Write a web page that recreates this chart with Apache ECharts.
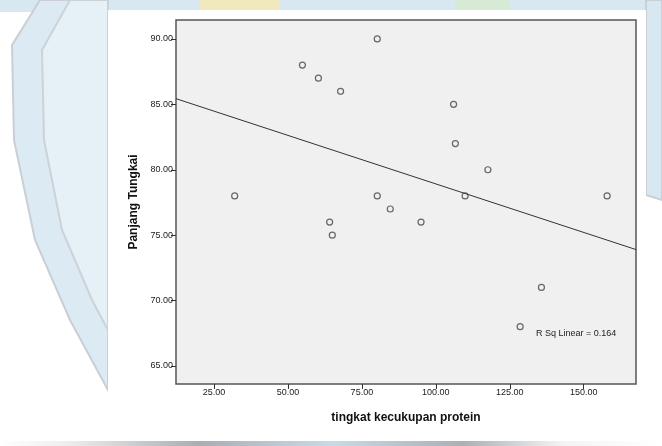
<!DOCTYPE html>
<html>
<head>
<meta charset="utf-8">
<script src="https://cdn.jsdelivr.net/npm/echarts@6/dist/echarts.min.js"></script>
<style>html,body{margin:0;padding:0;background:#fff;}#c{width:662px;height:446px;}</style>
</head>
<body>
<div id="c"></div>
<script>
// ---- data ----
const proteinValues = [80.2, 54.9, 60.3, 67.8, 32.0, 80.2, 106.0, 106.6, 117.6, 109.9, 157.9, 84.6, 64.1, 65.0, 95.0, 135.7, 128.5];
const legLengthValues = [90, 88, 87, 86, 78, 78, 85, 82, 80, 78, 78, 77, 76, 75, 76, 71, 68];
const xTickValues = [25, 50, 75, 100, 125, 150];
const yTickValues = [65, 70, 75, 80, 85, 90];
const xAxisTitle = 'tingkat kecukupan protein';
const yAxisTitle = 'Panjang Tungkai';
const fitLabel = 'R Sq Linear = 0.164';
const xRange = [12.16, 167.67];
const yRange = [63.62, 91.45];

// least-squares fit computed from the data
const n = proteinValues.length;
const mx = proteinValues.reduce((a, b) => a + b, 0) / n;
const my = legLengthValues.reduce((a, b) => a + b, 0) / n;
let sxy = 0, sxx = 0;
for (let i = 0; i < n; i++) { sxy += (proteinValues[i] - mx) * (legLengthValues[i] - my); sxx += (proteinValues[i] - mx) ** 2; }
const slope = sxy / sxx, intercept = my - slope * mx;
const fitLine = xRange.map(x => [x, intercept + slope * x]);
const points = proteinValues.map((x, i) => [x, legLengthValues[i]]);

const chart = echarts.init(document.getElementById('c'), null, {renderer: 'canvas'});
const fmt = v => v.toFixed(2);
chart.setOption({
  backgroundColor: '#ffffff',
  animation: false,
  graphic: [
    // faint watermark behind the chart image
    {type: 'rect', z: -5, shape: {x: 0, y: 0, width: 662, height: 12}, style: {fill: '#d8e8f2'}},
    {type: 'rect', z: -4, shape: {x: 200, y: 0, width: 80, height: 12}, style: {fill: '#f1e9bb'}},
    {type: 'rect', z: -4, shape: {x: 455, y: 0, width: 55, height: 12}, style: {fill: '#d6ead6'}},
    {type: 'polygon', z: -5, shape: {points: [[40,0],[12,45],[14,140],[35,240],[70,320],[108,390],[108,0]]}, style: {fill: '#dceaf4', stroke: '#c9cfd5', lineWidth: 2}},
    {type: 'polygon', z: -4, shape: {points: [[70,0],[42,50],[44,140],[62,230],[92,300],[108,330],[108,0]]}, style: {fill: '#e6f0f7', stroke: '#cdd2d7', lineWidth: 2}},
    {type: 'polygon', z: -5, shape: {points: [[646,0],[662,0],[662,200],[646,195]]}, style: {fill: '#d8e8f2', stroke: '#c9cfd5', lineWidth: 2}},
    {type: 'rect', z: -5, shape: {x: 0, y: 441, width: 662, height: 5},
      style: {fill: new echarts.graphic.LinearGradient(0, 0, 1, 0, [
        {offset: 0, color: '#ffffff'}, {offset: 0.1, color: '#eeeeee'}, {offset: 0.3, color: '#a9aeb3'},
        {offset: 0.5, color: '#c6dbe8'}, {offset: 0.7, color: '#aab0b5'}, {offset: 0.85, color: '#f4f4f4'}, {offset: 1, color: '#ffffff'}])}},
    // white chart image area
    {type: 'rect', z: -1, shape: {x: 108, y: 10, width: 538, height: 431}, style: {fill: '#ffffff'}},
    {type: 'text', z: 10, left: 536, top: 329, style: {text: fitLabel, font: '9px "Liberation Sans", Arial, sans-serif', fill: '#222'}}
  ],
  grid: {left: 176, right: 26, top: 20, bottom: 62, show: true, backgroundColor: '#f0f0f0', borderColor: '#555', borderWidth: 1.5},
  xAxis: {
    type: 'value', min: xRange[0], max: xRange[1],
    name: xAxisTitle, nameLocation: 'middle', nameGap: 28,
    nameTextStyle: {fontFamily: 'Liberation Sans', fontWeight: 'bold', fontSize: 12, color: '#111'},
    axisLine: {show: false}, splitLine: {show: false},
    axisTick: {show: true, length: 5, customValues: xTickValues, lineStyle: {color: '#333'}},
    axisLabel: {customValues: xTickValues, formatter: fmt, fontFamily: 'Liberation Sans', fontSize: 9, color: '#1a1a1a', margin: 4}
  },
  yAxis: {
    type: 'value', min: yRange[0], max: yRange[1],
    name: yAxisTitle, nameLocation: 'middle', nameGap: 35,
    nameTextStyle: {fontFamily: 'Liberation Sans', fontWeight: 'bold', fontSize: 12, color: '#111'},
    axisLine: {show: false}, splitLine: {show: false},
    axisTick: {show: true, length: 5, customValues: yTickValues, lineStyle: {color: '#333'}},
    axisLabel: {customValues: yTickValues, formatter: fmt, fontFamily: 'Liberation Sans', fontSize: 9, color: '#1a1a1a', margin: 3}
  },
  series: [
    {type: 'line', data: fitLine, symbol: 'none', clip: true, lineStyle: {color: '#333', width: 1}, silent: true, z: 3},
    {type: 'scatter', data: points, symbol: 'circle', symbolSize: 6, itemStyle: {color: 'rgba(0,0,0,0)', borderColor: '#444', borderWidth: 1.2}, z: 4}
  ]
});
</script>
</body>
</html>
